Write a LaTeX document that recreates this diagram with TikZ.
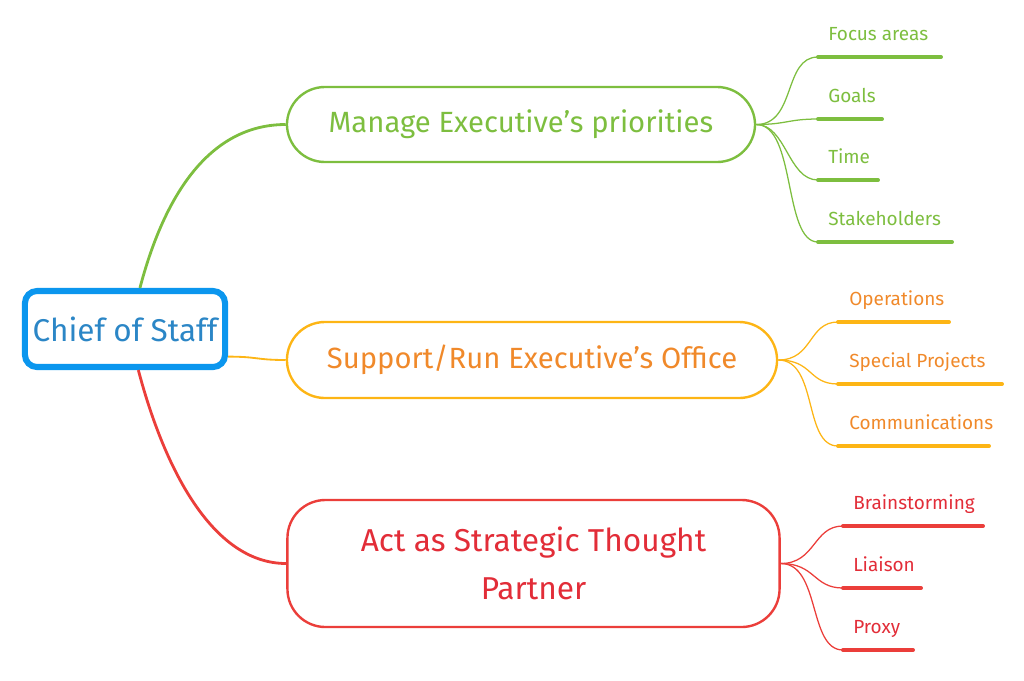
\documentclass[tikz,border=0pt]{standalone}
\usepackage{fontspec}
\setmainfont{Fira Sans}
\usepackage{tikz}
\definecolor{cosblue}{HTML}{0B96EE}
\definecolor{cosbluetext}{HTML}{2B86C6}
\definecolor{mgreen}{HTML}{7DBE3F}
\definecolor{morange}{HTML}{FDB515}
\definecolor{morangetext}{HTML}{F0892A}
\definecolor{mred}{HTML}{EB3E3A}
\definecolor{mredtext}{HTML}{E22D38}

\begin{document}
\begin{tikzpicture}[x=0.025cm, y=-0.025cm,
  topic/.style={draw, line width=1.7pt, rounded corners=0.95cm, inner sep=0pt, align=center,
    font=\fontsize{20.8}{34}\selectfont},
  leaf/.style={anchor=base west, inner sep=0pt, font=\fontsize{13.5}{15}\selectfont},
  uline/.style={line width=2.8pt, line cap=round},
  twig/.style={line width=0.9pt}]
  \useasboundingbox (0,0) rectangle (1024,680);
  % central topic
  \node[draw=cosblue, line width=4.3pt, rounded corners=0.3cm, minimum width=5cm, minimum height=1.9cm,
    inner sep=0pt, text=cosbluetext, font=\fontsize{22.4}{26}\selectfont] (cos) at (125,329) {Chief of Staff};
  % main topics
  \node[topic, draw=mgreen, text=mgreen, minimum width=11.7cm, minimum height=1.875cm] (mgr) at (521,124.5)
    {Manage Executive's priorities};
  \node[topic, draw=morange, text=morangetext, minimum width=12.25cm, minimum height=1.9cm] (ops) at (532,360)
    {Support/Run Executive's Office};
  \node[topic, draw=mred, text=mredtext, minimum width=12.3cm, minimum height=3.175cm,
    font=\fontsize{22.5}{34}\selectfont] (stp) at (533.5,563.5)
    {Act as Strategic Thought\\Partner};
  \draw[mgreen, line width=2pt] (cos.70) .. controls +(25,-95) and +(-75,0) .. (mgr.west);
  \draw[morange, line width=1.3pt] (cos.-15) .. controls +(30,0) and +(-30,0) .. (ops.west);
  \draw[mred, line width=2pt] (cos.-72) .. controls +(25,95) and +(-75,0) .. (stp.west);

  % green leaves
  \coordinate (g1) at (818,57);  \coordinate (g1e) at (941,57);
  \coordinate (g2) at (818,119); \coordinate (g2e) at (882,119);
  \coordinate (g3) at (818,180); \coordinate (g3e) at (878,180);
  \coordinate (g4) at (818,242); \coordinate (g4e) at (952,242);
  \draw[uline, mgreen] (g1) -- (g1e); \draw[uline, mgreen] (g2) -- (g2e);
  \draw[uline, mgreen] (g3) -- (g3e); \draw[uline, mgreen] (g4) -- (g4e);
  \node[leaf, text=mgreen] (g1t) at (828,40) {Focus areas};
  \node[leaf, text=mgreen] (g2t) at (828,102) {Goals};
  \node[leaf, text=mgreen] (g3t) at (828,163) {Time};
  \node[leaf, text=mgreen] (g4t) at (828,225) {Stakeholders};
  \draw[twig, mgreen] (mgr.east) .. controls +(40,0) and +(-35,0) .. (g1);
  \draw[twig, mgreen] (mgr.east) .. controls +(30,0) and +(-30,0) .. (g2);
  \draw[twig, mgreen] (mgr.east) .. controls +(30,0) and +(-30,0) .. (g3);
  \draw[twig, mgreen] (mgr.east) .. controls +(40,0) and +(-35,0) .. (g4);

  % orange leaves
  \coordinate (o1) at (838,322); \coordinate (o1e) at (949,322);
  \coordinate (o2) at (838,384); \coordinate (o2e) at (1002,384);
  \coordinate (o3) at (838,446); \coordinate (o3e) at (989,446);
  \draw[uline, morange] (o1) -- (o1e); \draw[uline, morange] (o2) -- (o2e);
  \draw[uline, morange] (o3) -- (o3e);
  \node[leaf, text=morangetext] (o1t) at (849,305) {Operations};
  \node[leaf, text=morangetext] (o2t) at (849,367) {Special Projects};
  \node[leaf, text=morangetext] (o3t) at (849,429) {Communications};
  \draw[twig, morange] (ops.east) .. controls +(35,0) and +(-30,0) .. (o1);
  \draw[twig, morange] (ops.east) .. controls +(35,0) and +(-30,0) .. (o2);
  \draw[twig, morange] (ops.east) .. controls +(40,0) and +(-35,0) .. (o3);

  % red leaves
  \coordinate (r1) at (843,526); \coordinate (r1e) at (983,526);
  \coordinate (r2) at (843,588); \coordinate (r2e) at (921,588);
  \coordinate (r3) at (843,650); \coordinate (r3e) at (913,650);
  \draw[uline, mred] (r1) -- (r1e); \draw[uline, mred] (r2) -- (r2e);
  \draw[uline, mred] (r3) -- (r3e);
  \node[leaf, text=mredtext] (r1t) at (853,509) {Brainstorming};
  \node[leaf, text=mredtext] (r2t) at (853,571) {Liaison};
  \node[leaf, text=mredtext] (r3t) at (853,633) {Proxy};
  \draw[twig, mred] (stp.east) .. controls +(35,0) and +(-30,0) .. (r1);
  \draw[twig, mred] (stp.east) .. controls +(35,0) and +(-30,0) .. (r2);
  \draw[twig, mred] (stp.east) .. controls +(40,0) and +(-35,0) .. (r3);
\end{tikzpicture}
\end{document}
